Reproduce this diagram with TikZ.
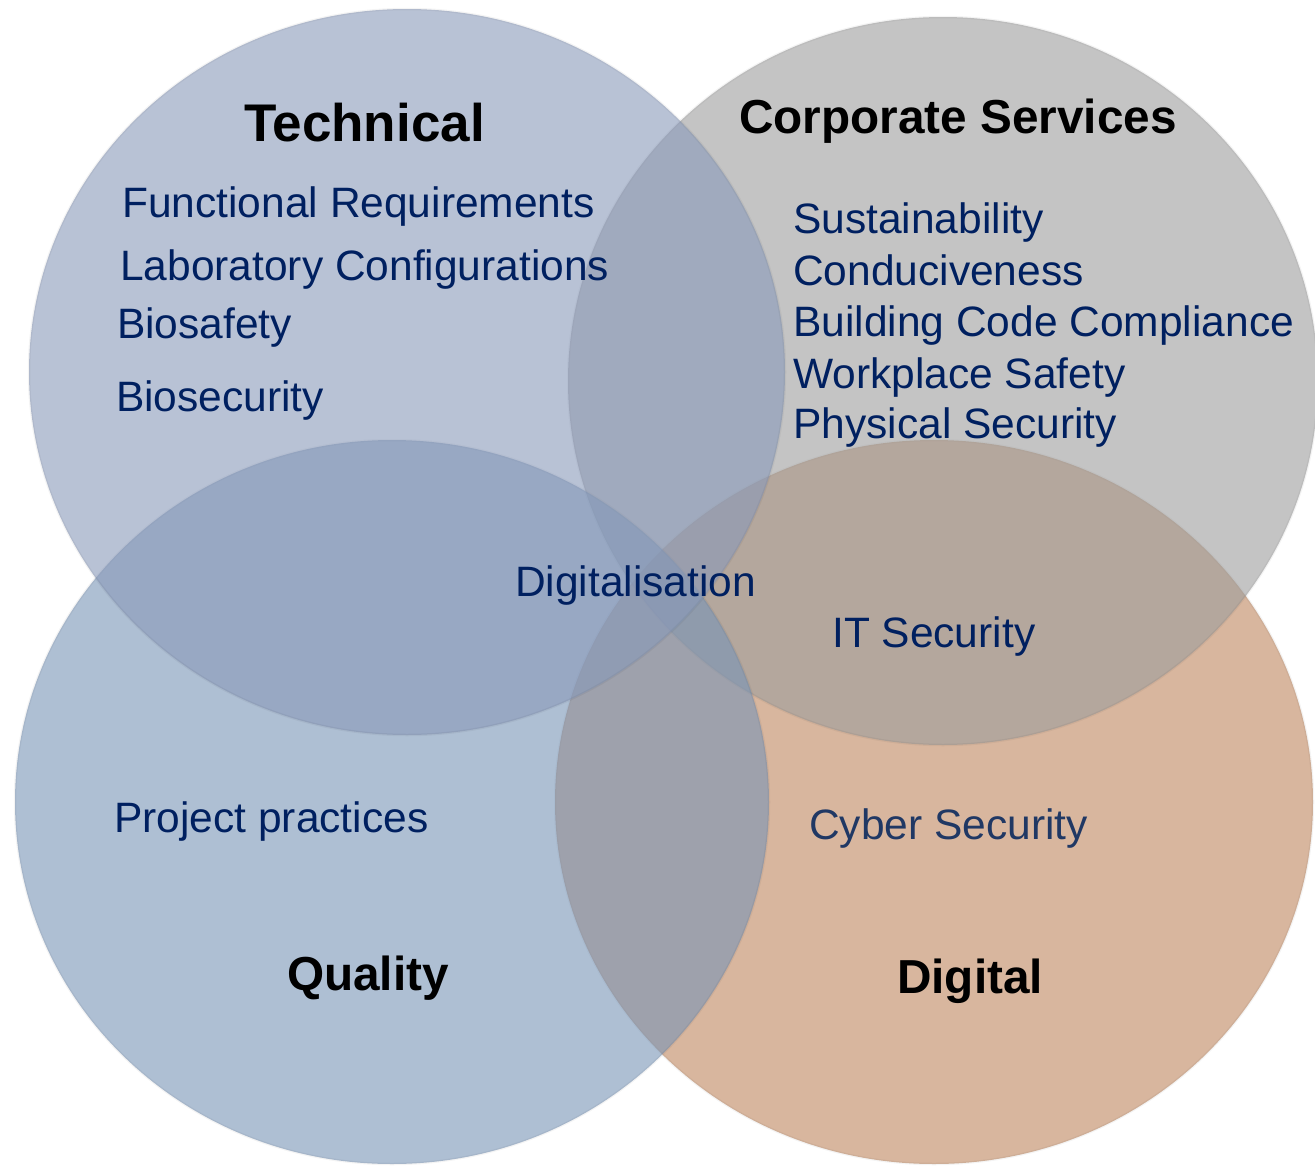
\documentclass[tikz,border=0pt]{standalone}
\usepackage{fontspec}
\setmainfont{Liberation Sans}
\definecolor{cTech}{RGB}{137,153,185}
\definecolor{cCorp}{RGB}{157,157,157}
\definecolor{cQual}{RGB}{120,148,182}
\definecolor{cDig}{RGB}{190,133,93}
\definecolor{navy}{RGB}{0,32,96}
\definecolor{navytwo}{RGB}{32,56,100}
\tikzset{
  setfill/.style={fill=#1, fill opacity=0.6, draw=black, draw opacity=0.045, line width=2.5pt},
  item/.style={anchor=base west, inner sep=0pt, text=navy, font=\fontsize{42.5pt}{48pt}\selectfont},
  title/.style={anchor=base west, inner sep=0pt, text=black, font=\bfseries\fontsize{47.7pt}{54pt}\selectfont}
}
\begin{document}
\begin{tikzpicture}[x=1pt,y=-1pt]
\useasboundingbox (0,0) rectangle (1315,1167);
% circles (bottom to top)
\path[setfill=cDig]  (934,802) ellipse [x radius=379pt, y radius=362pt];
\path[setfill=cCorp] (943,381) ellipse [x radius=375pt, y radius=364pt];
\path[setfill=cQual] (392,802) ellipse [x radius=377pt, y radius=362pt];
\path[setfill=cTech] (407,372) ellipse [x radius=378pt, y radius=363pt];
% titles
\node[title, font=\bfseries\fontsize{53pt}{60pt}\selectfont] (tTech) at (244,141.5) {Technical};
\node[title] (tCorp) at (739,133.5) {Corporate Services};
\node[title] (tQual) at (287,990) {Quality};
\node[title] (tDig) at (897,993) {Digital};
% technical items
\node[item] (fr) at (122,217.5) {Functional Requirements};
\node[item] (lc) at (120,280.5) {Laboratory Configurations};
\node[item] (bsf) at (117,338) {Biosafety};
\node[item] (bsc) at (116,411) {Biosecurity};
% corporate items
\node[item] (sus) at (793,233.5) {Sustainability};
\node[item] (con) at (793,285) {Conduciveness};
\node[item] (bcc) at (793,336) {Building Code Compliance};
\node[item] (wps) at (793,388) {Workplace Safety};
\node[item] (phs) at (793,438) {Physical Security};
% intersections
\node[item] (dgt) at (515,596) {Digitalisation};
\node[item] (its) at (832,647) {IT Security};
\node[item] (pp) at (114,832) {Project practices};
\node[item, text=navytwo] (cyb) at (809,839.5) {Cyber Security};
\end{tikzpicture}
\end{document}
